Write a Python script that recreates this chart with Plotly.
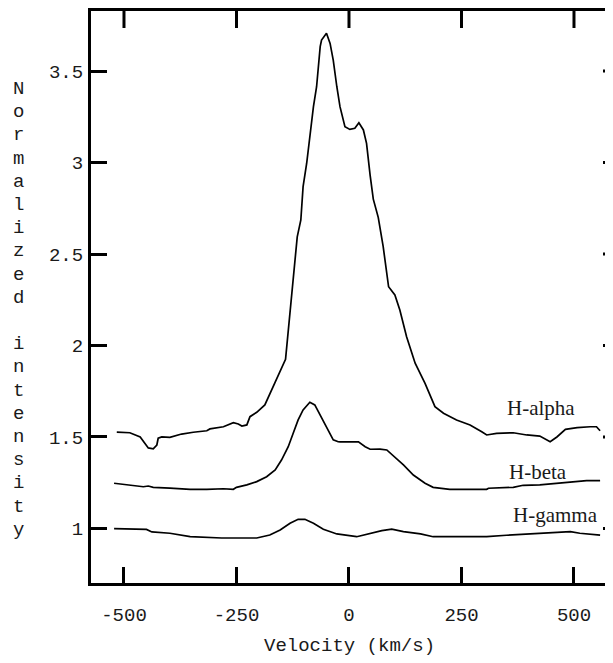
import plotly.graph_objects as go

# ---- data ----
alpha_v = [-516, -487, -464, -453, -446, -435, -427, -424, -416, -398, -372, -346, -316, -309,
           -279, -257, -246, -238, -227, -220, -205, -187, -176, -164, -141, -128, -115, -107,
           -102, -94, -87, -79, -72, -64, -61, -50, -42, -35, -27, -20, -9, 2, 13, 22, 32, 39,
           47, 54, 65, 76, 88, 102, 113, 128, 147, 169, 191, 210, 239, 269, 295, 306, 328, 350,
           365, 395, 424, 447, 462, 481, 507, 536, 550, 558]
alpha_y = [1.527, 1.523, 1.500, 1.467, 1.440, 1.435, 1.456, 1.493, 1.500, 1.498, 1.516, 1.526,
           1.534, 1.544, 1.556, 1.578, 1.571, 1.560, 1.566, 1.611, 1.635, 1.675, 1.739, 1.800,
           1.924, 2.270, 2.594, 2.686, 2.868, 2.996, 3.141, 3.305, 3.414, 3.633, 3.669, 3.706,
           3.651, 3.560, 3.414, 3.305, 3.196, 3.181, 3.187, 3.217, 3.178, 3.105, 2.930, 2.800,
           2.700, 2.540, 2.321, 2.276, 2.194, 2.048, 1.903, 1.793, 1.666, 1.630, 1.593, 1.566,
           1.529, 1.511, 1.520, 1.523, 1.523, 1.511, 1.505, 1.474, 1.500, 1.542, 1.551, 1.556,
           1.556, 1.534]

beta_v = [-522, -494, -457, -446, -435, -398, -353, -316, -279, -257, -250, -227, -205, -183,
          -164, -150, -135, -124, -113, -102, -87, -76, -64, -50, -35, -24, -20, 21, 36, 47, 69,
          84, 98, 121, 143, 169, 187, 224, 306, 310, 365, 387, 424, 462, 498, 528, 558]
beta_y = [1.247, 1.238, 1.228, 1.232, 1.225, 1.220, 1.214, 1.214, 1.217, 1.214, 1.225, 1.238,
          1.256, 1.283, 1.320, 1.374, 1.447, 1.520, 1.593, 1.648, 1.690, 1.675, 1.620, 1.548,
          1.484, 1.474, 1.473, 1.473, 1.447, 1.433, 1.434, 1.429, 1.400, 1.347, 1.292, 1.247,
          1.225, 1.214, 1.214, 1.220, 1.225, 1.236, 1.238, 1.247, 1.256, 1.261, 1.261]

gamma_v = [-522, -450, -438, -398, -353, -283, -205, -176, -153, -131, -113, -98, -79, -57,
           -27, 17, 24, 47, 73, 95, 121, 159, 187, 277, 306, 350, 395, 454, 492, 513, 558]
gamma_y = [0.999, 0.995, 0.981, 0.974, 0.955, 0.948, 0.948, 0.964, 0.992, 1.028, 1.050, 1.050,
           1.028, 0.996, 0.970, 0.955, 0.959, 0.974, 0.988, 0.996, 0.983, 0.970, 0.955, 0.955,
           0.955, 0.963, 0.970, 0.977, 0.983, 0.974, 0.964]

label_text = ["H-alpha", "H-beta", "H-gamma"]
label_v = [426, 421, 458]
label_y = [1.657, 1.310, 1.072]

x_ticks = [-500, -250, 0, 250, 500]
x_tick_text = ["-500", "-250", "0", "250", "500"]
y_ticks = [1, 1.5, 2, 2.5, 3, 3.5]
y_tick_text = ["1", "1.5", "2", "2.5", "3", "3.5"]
x_range = [-573.3, 586.7]
y_range = [0.702, 3.828]

x_title = "Velocity (km/s)"
y_title = "Normalized intensity"

MONO = "Liberation Mono"
SERIF = "Liberation Serif"
TXT = "#1a1a1a"

# figure geometry (page has an 8px body margin)
W, H = 605, 655
L, R, T, B = 83, 0, 3, 80
plot_w = W - L - R
plot_h = H - T - B
TICK_TOP = 17      # px, inward ticks on the top frame
TICK_RIGHT = 10    # px, visible part of the right-frame ticks

fig = go.Figure()
for vx, vy in [(alpha_v, alpha_y), (beta_v, beta_y), (gamma_v, gamma_y)]:
    fig.add_trace(go.Scatter(x=vx, y=vy, mode="lines",
                             line=dict(color="black", width=1.7),
                             showlegend=False, hoverinfo="skip"))

# top-frame tick marks drawn as short line segments hanging from the top edge
tick_drop = TICK_TOP / plot_h * (y_range[1] - y_range[0])
top_x, top_y = [], []
for xv in x_ticks:
    top_x += [xv, xv, None]
    top_y += [y_range[1], y_range[1] - tick_drop, None]
fig.add_trace(go.Scatter(x=top_x, y=top_y, mode="lines",
                         line=dict(color="black", width=3),
                         showlegend=False, hoverinfo="skip"))

for t, vx, vy in zip(label_text, label_v, label_y):
    fig.add_annotation(x=vx, y=vy, text=t, showarrow=False,
                       font=dict(family=SERIF, size=21, color=TXT),
                       xanchor="center", yanchor="middle")

# vertical stacked y-axis title, one character per line
for i, ch in enumerate(y_title):
    if ch == " ":
        continue
    py = 81 + i * 23.2          # figure pixel centre of each character
    fig.add_annotation(xref="paper", yref="paper",
                       x=(10 - L) / plot_w, y=(H - B - py) / plot_h,
                       text=ch, showarrow=False,
                       font=dict(family=MONO, size=19, color=TXT),
                       xanchor="center", yanchor="middle")

# x-axis title
fig.add_annotation(xref="paper", yref="paper", x=(341 - L) / plot_w,
                   y=-(638 - (H - B)) / plot_h, text=x_title, showarrow=False,
                   font=dict(family=MONO, size=19, color=TXT),
                   xanchor="center", yanchor="middle")

# frame ticks on the right side
for yv in y_ticks:
    fig.add_shape(type="line", xref="paper", yref="y", y0=yv, y1=yv,
                  x0=1 - TICK_RIGHT / plot_w, x1=1, line=dict(color="black", width=3),
                  layer="above")

fig.update_layout(
    width=W, height=H,
    margin=dict(l=L, r=R, t=T, b=B),
    paper_bgcolor="white", plot_bgcolor="white",
    xaxis=dict(range=x_range, tickvals=x_ticks, ticktext=x_tick_text, ticks="inside",
               ticklen=16, tickwidth=3, tickcolor="black", showline=True, linewidth=3,
               linecolor="black", mirror=True, showgrid=False, zeroline=False,
               tickfont=dict(family=MONO, size=19, color=TXT),
               ticklabelstandoff=12),
    yaxis=dict(range=y_range, tickvals=y_ticks, ticktext=y_tick_text, ticks="inside",
               ticklen=16, tickwidth=3, tickcolor="black", showline=True, linewidth=3,
               linecolor="black", showgrid=False, zeroline=False,
               tickfont=dict(family=MONO, size=19, color=TXT),
               ticklabelstandoff=1),
)

fig.write_html("out.html", config={"displayModeBar": False})
